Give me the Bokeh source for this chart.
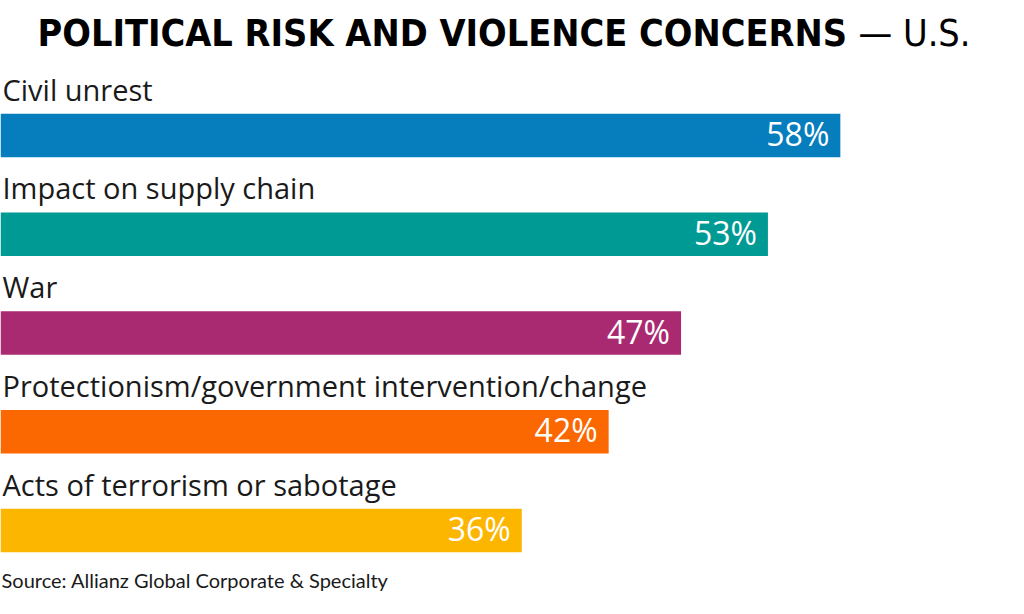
from bokeh.plotting import figure
from bokeh.models import Range1d, ColumnDataSource, Label
from bokeh.core.properties import value
from bokeh.embed import file_html
from bokeh.resources import INLINE

categories = ["Civil unrest", "Impact on supply chain", "War",
              "Protectionism/government intervention/change",
              "Acts of terrorism or sabotage"]
values = [58, 53, 47, 42, 36]
colors = ["#067DBD", "#009A94", "#AA2A72", "#FB6700", "#FDB600"]
title_main = "POLITICAL RISK AND VIOLENCE CONCERNS"
title_tail = "\u2014 U.S."
source_text = "Source: Allianz Global Corporate & Specialty"

W, H = 1008, 598
PX_PER_UNIT = 14.48          # horizontal pixels per percentage point
Y0, STEP = 135.08, 98.71     # first bar centre and bar pitch (px)
BASE_FIX = 0.40              # svg alphabetic baseline correction (x font size)

def y_of(px):
    return (px - Y0) / STEP

LAB_FS, PCT_FS, TITLE_FS, SRC_FS = 29, 32, 37.5, 20

idx = list(range(len(categories)))
src = ColumnDataSource(dict(
    y=idx,
    right=values,
    left=[0] * len(values),
    color=colors,
    cat=categories,
    lab_y=[i + (100.3 - BASE_FIX * LAB_FS - Y0) / STEP for i in idx],
    lab_x=[2 / PX_PER_UNIT] * len(values),
    pct=[f"{v}%" for v in values],
    pct_y=[i + (146.1 - BASE_FIX * PCT_FS - Y0) / STEP for i in idx],
))

p = figure(width=W, height=H, output_backend="svg", toolbar_location=None,
           x_range=Range1d(0, W / PX_PER_UNIT),
           y_range=Range1d(y_of(H), y_of(0)),
           min_border=0)
p.axis.visible = False
p.grid.visible = False
p.outline_line_color = None
p.background_fill_color = "white"
p.border_fill_color = "white"

p.hbar(y="y", left="left", right="right", height=0.44, color="color",
       line_color=None, source=src)

p.text(x="lab_x", y="lab_y", text="cat", source=src,
       text_font=value("Open Sans"), text_font_size=f"{LAB_FS}px",
       text_color="#1a1a1a", text_baseline="alphabetic", text_align="left")

p.text(x="right", y="pct_y", text="pct", source=src, x_offset=-11,
       text_font=value("Open Sans"), text_font_size=f"{PCT_FS}px",
       text_color="white", text_baseline="alphabetic", text_align="right")

title_base = 47.5 - BASE_FIX * TITLE_FS
p.add_layout(Label(x=37, y=H - title_base, x_units="screen", y_units="screen",
                   text=title_main, text_font="DejaVu Sans Condensed",
                   text_font_style="bold", text_font_size=f"{TITLE_FS}px",
                   text_color="black", text_baseline="alphabetic"))
p.add_layout(Label(x=970, y=H - title_base, x_units="screen", y_units="screen",
                   text=title_tail, text_font="DejaVu Sans Condensed",
                   text_font_size=f"{TITLE_FS}px", text_align="right",
                   text_color="black", text_baseline="alphabetic"))

src_base = 587.3 - BASE_FIX * SRC_FS
p.add_layout(Label(x=1, y=H - src_base, x_units="screen", y_units="screen",
                   text=source_text, text_font="Lato", text_font_size=f"{SRC_FS}px",
                   text_color="#1a1a1a", text_baseline="alphabetic"))

open("out.html", "w").write(file_html(p, INLINE))
